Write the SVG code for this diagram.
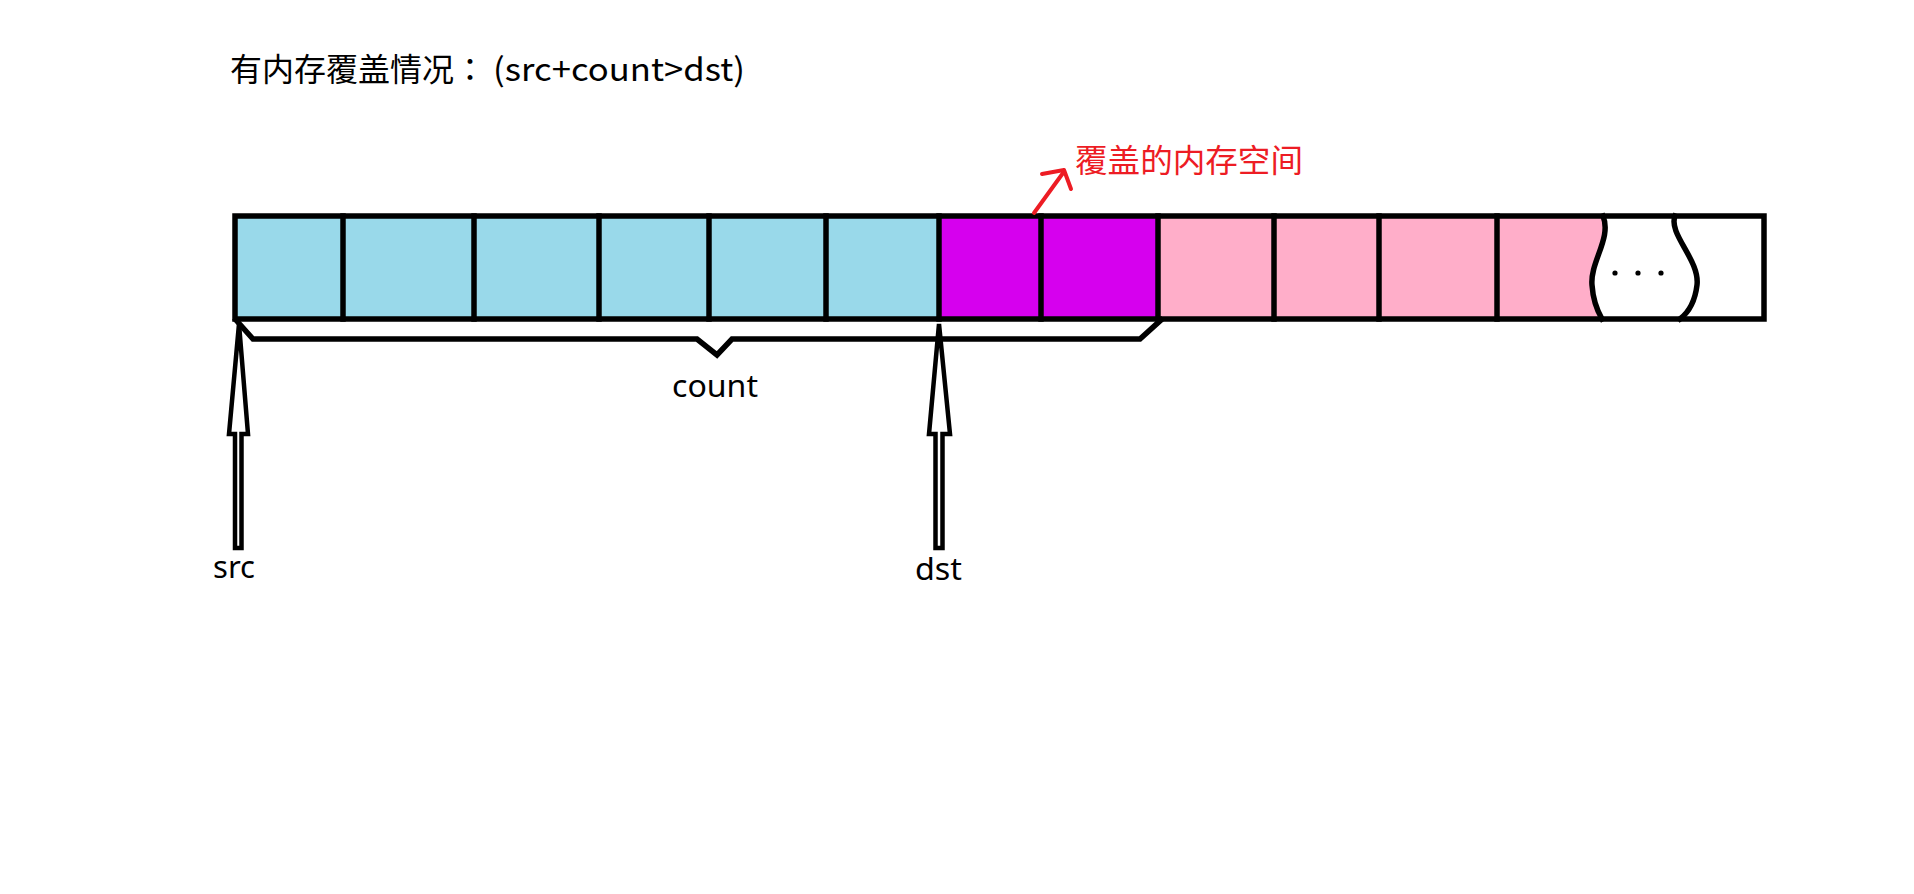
<svg xmlns="http://www.w3.org/2000/svg" width="1914" height="894" viewBox="0 0 1914 894">
<style>
  .txt { font-family: "Noto Sans", "Noto Sans CJK SC", sans-serif; fill: #000; }
  .cjk { font-family: "Noto Sans CJK SC", "Noto Sans", sans-serif; }
  .colon { font-family: "Noto Sans CJK TC", "Noto Sans CJK JP", sans-serif; }
  .red { fill: #ed1c24; }
  .blue { fill: #99d9ea; }
  .purple { fill: #d600ee; }
  .pink { fill: #ffaec9; }
  .line { stroke: #000; stroke-width: 5.5; fill: none; stroke-linecap: square; }
  .arrow { stroke: #000; stroke-width: 4.5; fill: #fff; stroke-linejoin: miter; }
</style>
<rect width="1914" height="894" fill="#fff"/>

<g id="title">
  <text class="txt cjk" y="81" font-size="32"><tspan x="230">有内存覆盖情况</tspan><tspan class="colon" x="454">：</tspan><tspan x="493" textLength="252" lengthAdjust="spacingAndGlyphs">(src+count&gt;dst)</tspan></text>
</g>

<g id="memory">
  <g id="cells-src">
    <rect class="blue" x="235" y="216" width="704" height="103"/>
  </g>
  <g id="cells-overlap">
    <rect class="purple" x="939" y="216" width="219" height="103"/>
  </g>
  <g id="cells-rest">
    <path class="pink" d="M1158,216 L1603,216 C1612,238 1590,262 1592,285 C1593,300 1598,312 1602,319 L1158,319 Z"/>
  </g>
  <g id="dividers">
    <line class="line" x1="343" y1="216" x2="343" y2="319"/>
    <line class="line" x1="474" y1="216" x2="474" y2="319"/>
    <line class="line" x1="599" y1="216" x2="599" y2="319"/>
    <line class="line" x1="709" y1="216" x2="709" y2="319"/>
    <line class="line" x1="826" y1="216" x2="826" y2="319"/>
    <line class="line" x1="939" y1="216" x2="939" y2="319"/>
    <line class="line" x1="1041" y1="216" x2="1041" y2="319"/>
    <line class="line" x1="1158" y1="216" x2="1158" y2="319"/>
    <line class="line" x1="1274" y1="216" x2="1274" y2="319"/>
    <line class="line" x1="1379" y1="216" x2="1379" y2="319"/>
    <line class="line" x1="1497" y1="216" x2="1497" y2="319"/>
    <path class="line" stroke-linecap="butt" d="M1603,216 C1612,238 1590,262 1592,285 C1593,300 1598,312 1602,319"/>
    <path class="line" stroke-linecap="butt" d="M1675,216 C1668,234 1700,260 1697,285 C1695,302 1689,312 1680,319"/>
  </g>
  <rect class="line" x="235" y="216" width="1529" height="103"/>
  <g id="ellipsis" fill="#000">
    <circle cx="1615" cy="273" r="2.6"/>
    <circle cx="1638" cy="273" r="2.6"/>
    <circle cx="1661" cy="273" r="2.6"/>
  </g>
</g>

<g id="connectors">
  <path id="count-brace" class="line" stroke-linecap="butt" stroke-linejoin="miter" d="M236,320 L253,339 L697,339 L717,355 L732,339 L1140,339 L1161,320"/>
  <polygon id="src-arrow" class="arrow" points="239,324 248,434 241.5,434 241.5,548 235,548 235,434 229,434"/>
  <polygon id="dst-arrow" class="arrow" points="939,324 950,434 942.5,434 942.5,548 935.5,548 935.5,434 929,434"/>
  <g id="overlap-arrow" stroke="#ed1c24" stroke-width="4" fill="none" stroke-linecap="round" stroke-linejoin="round">
    <line x1="1034" y1="213" x2="1063" y2="173"/>
    <polyline points="1042,174 1064,170 1071,189"/>
  </g>
</g>

<g id="labels">
  <text class="txt" x="672" y="397" font-size="31" textLength="86" lengthAdjust="spacingAndGlyphs">count</text>
  <text class="txt" x="213" y="578" font-size="31" textLength="42" lengthAdjust="spacingAndGlyphs">src</text>
  <text class="txt" x="915" y="580" font-size="31" textLength="47" lengthAdjust="spacingAndGlyphs">dst</text>
  <text class="txt cjk red" x="1075" y="172" font-size="32" textLength="228" lengthAdjust="spacingAndGlyphs">覆盖的内存空间</text>
</g>
</svg>
